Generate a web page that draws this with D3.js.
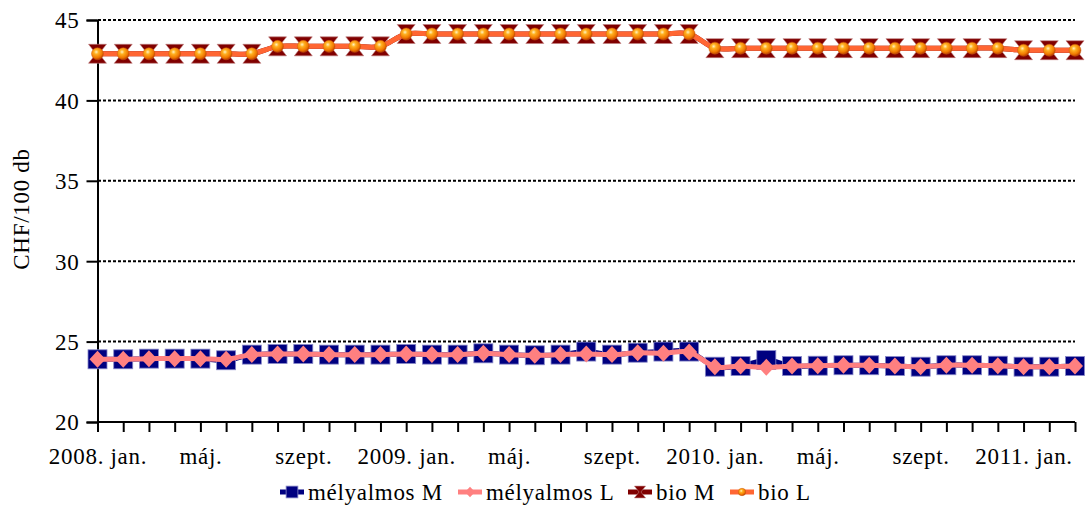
<!DOCTYPE html>
<html>
<head>
<meta charset="utf-8">
<script src="https://cdn.jsdelivr.net/npm/d3@7"></script>
<style>
  body { margin: 0; background: #fff; }
</style>
</head>
<body>
<svg id="chart"></svg>
<script>
// havi adatok, 2008. jan. - 2011. márc.
var categories = [
  "2008. jan.", "febr.", "márc.", "ápr.", "máj.", "jún.", "júl.", "aug.", "szept.", "okt.", "nov.", "dec.",
  "2009. jan.", "febr.", "márc.", "ápr.", "máj.", "jún.", "júl.", "aug.", "szept.", "okt.", "nov.", "dec.",
  "2010. jan.", "febr.", "márc.", "ápr.", "máj.", "jún.", "júl.", "aug.", "szept.", "okt.", "nov.", "dec.",
  "2011. jan.", "febr.", "márc."
];

var melyalmosM = [23.9, 23.9, 23.94, 23.94, 23.94, 23.84, 24.19, 24.23, 24.23, 24.19, 24.19, 24.19,
                  24.23, 24.19, 24.19, 24.27, 24.19, 24.15, 24.19, 24.38, 24.19, 24.31, 24.38, 24.38,
                  23.44, 23.48, 23.85, 23.48, 23.5, 23.53, 23.53, 23.48, 23.44, 23.53, 23.53, 23.5,
                  23.44, 23.44, 23.48];
var melyalmosL = [23.9, 23.9, 23.94, 23.94, 23.94, 23.9, 24.19, 24.23, 24.23, 24.19, 24.19, 24.19,
                  24.23, 24.19, 24.19, 24.27, 24.19, 24.15, 24.19, 24.23, 24.19, 24.31, 24.27, 24.35,
                  23.44, 23.48, 23.4, 23.48, 23.5, 23.53, 23.53, 23.48, 23.44, 23.53, 23.53, 23.5,
                  23.44, 23.44, 23.48];
var bioM = [42.9, 42.9, 42.9, 42.9, 42.9, 42.9, 42.9, 43.36, 43.36, 43.36, 43.36, 43.36,
            44.13, 44.13, 44.13, 44.13, 44.13, 44.13, 44.13, 44.13, 44.13, 44.13, 44.13, 44.13,
            43.25, 43.25, 43.25, 43.25, 43.25, 43.25, 43.25, 43.25, 43.25, 43.25, 43.25, 43.25,
            43.12, 43.12, 43.12];
var bioL = [42.9, 42.9, 42.9, 42.9, 42.9, 42.9, 42.9, 43.36, 43.36, 43.36, 43.36, 43.36,
            44.13, 44.13, 44.13, 44.13, 44.13, 44.13, 44.13, 44.13, 44.13, 44.13, 44.13, 44.13,
            43.25, 43.25, 43.25, 43.25, 43.25, 43.25, 43.25, 43.25, 43.25, 43.25, 43.25, 43.25,
            43.12, 43.12, 43.12];

var seriesNames = ["mélyalmos M", "mélyalmos L", "bio M", "bio L"];
var yTicks = [20, 25, 30, 35, 40, 45];

var FONT = "'Liberation Serif', 'Times New Roman', 'DejaVu Serif', serif";

var width = 1091, height = 506;
var svg = d3.select("#chart").attr("width", width).attr("height", height)
    .attr("font-family", FONT).attr("font-size", 23);

var defs = svg.append("defs");
var grad = defs.append("radialGradient").attr("id", "ball")
    .attr("cx", "40%").attr("cy", "35%").attr("r", "65%");
grad.append("stop").attr("offset", "0%").attr("stop-color", "#fff2c0");
grad.append("stop").attr("offset", "30%").attr("stop-color", "#ffb020");
grad.append("stop").attr("offset", "75%").attr("stop-color", "#f07800");
grad.append("stop").attr("offset", "100%").attr("stop-color", "#b84000");

var x = d3.scalePoint().domain(d3.range(categories.length)).range([97.5, 1075]);
var y = d3.scaleLinear().domain([20, 45]).range([422, 20]);

function styleText(sel) {
  sel.attr("font-family", FONT).attr("font-size", 23)
     .attr("letter-spacing", 0.7).attr("fill", "#000");
}

// rácsvonalak
svg.append("g").selectAll("line")
   .data(yTicks.filter(function(d) { return d > 20; }))
   .enter().append("line")
   .attr("x1", 98).attr("x2", 1075)
   .attr("y1", function(d) { return y(d); })
   .attr("y2", function(d) { return y(d); })
   .attr("stroke", "#000").attr("stroke-width", 2)
   .attr("stroke-dasharray", "3,2");

// y tengely
var yAxis = svg.append("g")
   .attr("transform", "translate(97.5,0)")
   .call(d3.axisLeft(y).tickValues(yTicks).tickSize(11).tickPadding(7));
yAxis.attr("font-family", FONT).attr("font-size", 23);
yAxis.select(".domain").attr("stroke", "#000").attr("stroke-width", 2);
yAxis.selectAll(".tick line").attr("stroke", "#000").attr("stroke-width", 2);
yAxis.selectAll("text").call(styleText).attr("dy", "0.34em");

// x tengely
var xAxis = svg.append("g")
   .attr("transform", "translate(0," + y(20) + ")")
   .call(d3.axisBottom(x).tickSize(10).tickPadding(16)
           .tickFormat(function(i) { return i % 4 === 0 ? categories[i] : ""; }));
xAxis.attr("font-family", FONT).attr("font-size", 23);
xAxis.select(".domain").attr("d", "M97.5,0H1075").attr("stroke", "#000").attr("stroke-width", 2);
xAxis.selectAll(".tick line").attr("stroke", "#000").attr("stroke-width", 2);
xAxis.selectAll("text").call(styleText);

// tengelycím
svg.append("text")
   .attr("transform", "translate(29,209) rotate(-90)")
   .attr("text-anchor", "middle")
   .call(styleText)
   .text("CHF/100 db");

var line = d3.line()
   .x(function(d, i) { return x(i); })
   .y(function(d) { return y(d); })
   .curve(d3.curveCardinal.tension(0));

function square(g, s) {
  g.append("rect").attr("x", -9.5 * s).attr("y", -9.5 * s)
   .attr("width", 19 * s).attr("height", 19 * s)
   .attr("fill", "#000080").attr("stroke", "#8888c8").attr("stroke-width", 0.8);
}
function diamond(g, s) {
  g.append("path").attr("d", "M0," + (-8.5 * s) + "L" + (8 * s) + ",0L0," + (8.5 * s) + "L" + (-8 * s) + ",0Z")
   .attr("fill", "#ff8080");
}
function hourglass(g, s) {
  g.append("path")
   .attr("d", "M" + (-9 * s) + "," + (-9.5 * s) + "L" + (9 * s) + "," + (-9.5 * s) +
              "L" + (1.5 * s) + ",0L" + (9 * s) + "," + (9.5 * s) +
              "L" + (-9 * s) + "," + (9.5 * s) + "L" + (-1.5 * s) + ",0Z")
   .attr("fill", "#800000").attr("stroke", "#c08080").attr("stroke-width", 0.6);
}
function ball(g, s) {
  g.append("circle").attr("r", 6 * s).attr("fill", "url(#ball)")
   .attr("stroke", "#d06010").attr("stroke-width", 0.5);
}

var series = [
  {name: seriesNames[0], values: melyalmosM, color: "#000080", marker: square},
  {name: seriesNames[1], values: melyalmosL, color: "#ff8080", marker: diamond},
  {name: seriesNames[2], values: bioM, color: "#800000", marker: hourglass},
  {name: seriesNames[3], values: bioL, color: "#ff6633", marker: ball}
];

series.forEach(function(s) {
  var g = svg.append("g");
  g.append("path")
   .datum(s.values)
   .attr("fill", "none")
   .attr("stroke", s.color)
   .attr("stroke-width", 5)
   .attr("stroke-linejoin", "round")
   .attr("d", line);
  g.selectAll("g.m")
   .data(s.values)
   .enter().append("g")
   .attr("class", "m")
   .attr("transform", function(d, i) { return "translate(" + x(i) + "," + y(d) + ")"; })
   .each(function() { s.marker(d3.select(this), 1); });
});

// jelmagyarázat
var legendX = [280, 458, 628, 730];
var legend = svg.append("g");
series.forEach(function(s, i) {
  var g = legend.append("g").attr("transform", "translate(" + legendX[i] + ",492)");
  g.append("line").attr("x1", 0).attr("x2", 24).attr("y1", 0).attr("y2", 0)
   .attr("stroke", s.color).attr("stroke-width", 5);
  var m = g.append("g").attr("transform", "translate(12,0)");
  s.marker(m, 0.62);
  g.append("text").attr("x", 28).attr("y", 0).attr("dy", "0.33em").call(styleText).text(s.name);
});
</script>
</body>
</html>
